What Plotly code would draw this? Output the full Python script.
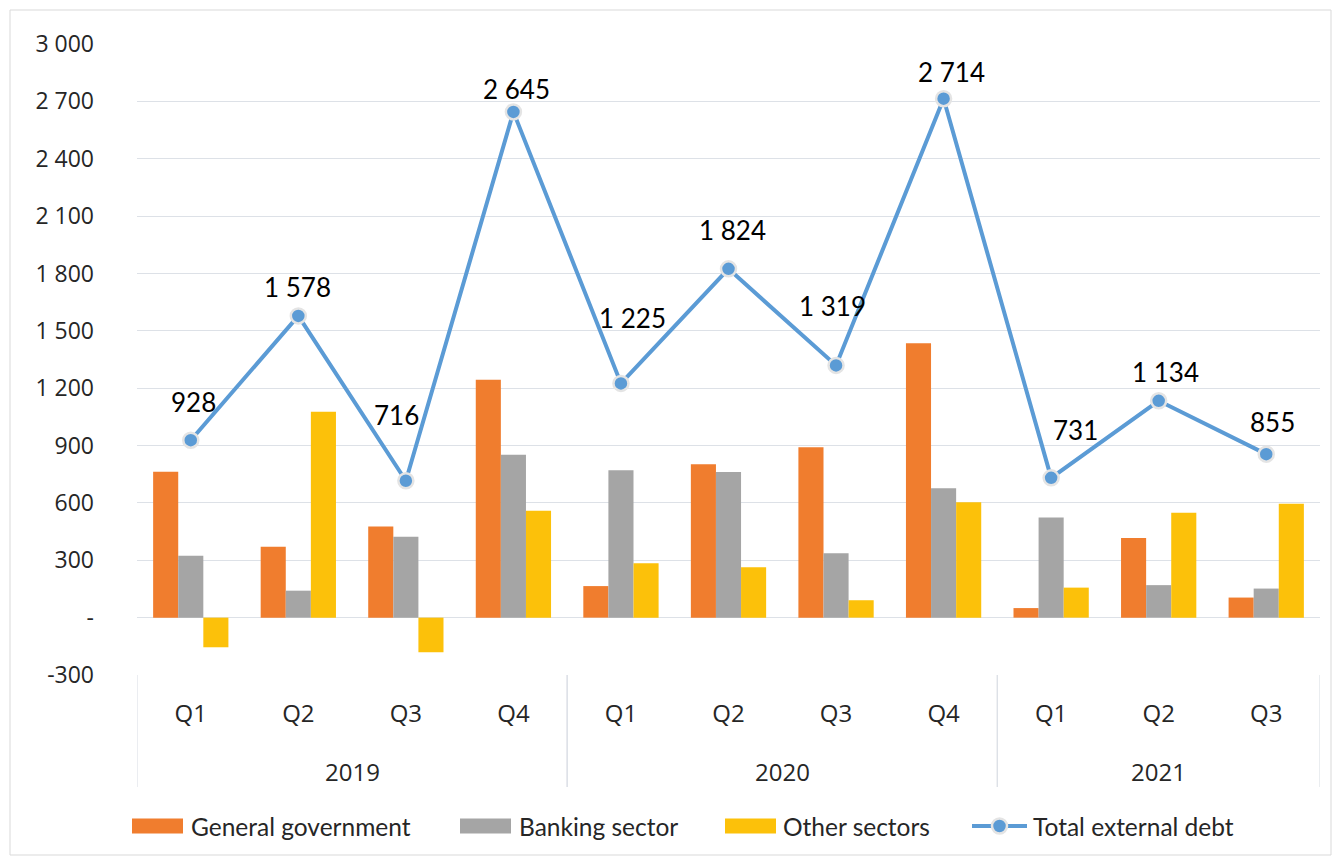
import plotly.graph_objects as go

# ---- data ----
years = ["2019", "2019", "2019", "2019", "2020", "2020", "2020", "2020", "2021", "2021", "2021"]
quarters = ["Q1", "Q2", "Q3", "Q4", "Q1", "Q2", "Q3", "Q4", "Q1", "Q2", "Q3"]
general_government = [763, 371, 476, 1244, 165, 802, 891, 1435, 50, 416, 105]
banking_sector = [324, 141, 423, 852, 771, 761, 337, 677, 524, 170, 152]
other_sectors = [-155, 1077, -181, 559, 285, 264, 91, 604, 157, 548, 596]
total_external_debt = [928, 1578, 716, 2645, 1225, 1824, 1319, 2714, 731, 1134, 855]
y_tick_values = [-300, 0, 300, 600, 900, 1200, 1500, 1800, 2100, 2400, 2700, 3000]

# ---- styling / layout (label offsets in px, manually placed in original) ----
label_dy = [38, 29, 66, 23, 65, 39, 59, 27, 48, 29, 32]
label_dx = [3, -1, -9, 3, 12, 4, -4, 8, 24, 7, 6]

W, H = 1337, 858
L, R, T, B = 137, 17, 44, 183
PW, PH = W - L - R, H - T - B


def px(x):
    return (x - L) / PW


def py(y):
    return (H - B - y) / PH


def fmt(v):
    if v == 0:
        return "-"
    return f"{v:,}".replace(",", " ")


C_GG = "#F07D2E"
C_BS = "#A5A5A5"
C_OS = "#FCC10A"
C_LINE = "#5B9BD5"
GRID = "#DDE1E7"
TXT = "#262626"

xi = list(range(len(quarters)))

fig = go.Figure()
fig.add_trace(go.Bar(x=xi, y=general_government, name="General government", marker=dict(color=C_GG, line_width=0)))
fig.add_trace(go.Bar(x=xi, y=banking_sector, name="Banking sector", marker=dict(color=C_BS, line_width=0)))
fig.add_trace(go.Bar(x=xi, y=other_sectors, name="Other sectors", marker=dict(color=C_OS, line_width=0)))
fig.add_trace(go.Scatter(
    x=xi, y=total_external_debt, name="Total external debt", mode="lines+markers",
    line=dict(color=C_LINE, width=4),
    marker=dict(size=15, color=C_LINE, line=dict(color="#E4E4E4", width=2.5)),
    cliponaxis=False,
))

annotations = []
for i, v in enumerate(total_external_debt):
    annotations.append(dict(
        x=i, y=v, xref="x", yref="y", text=fmt(v), showarrow=False,
        xanchor="center", yanchor="middle", xshift=label_dx[i], yshift=label_dy[i],
        font=dict(family="Lato", size=26, color="#000000"),
    ))

shapes = []
# year groups: labels and dividers derived from the years list
groups = []
for i, yname in enumerate(years):
    if not groups or groups[-1][0] != yname:
        groups.append([yname, i, i])
    else:
        groups[-1][2] = i
for yname, i0, i1 in groups:
    annotations.append(dict(x=(i0 + i1) / 2, y=py(771), xref="x", yref="paper", text=yname,
                            showarrow=False, xanchor="center", yanchor="middle",
                            font=dict(family="Open Sans", size=24, color=TXT)))
    for xb in (i0 - 0.5, i1 + 0.5):
        shapes.append(dict(type="line", xref="x", yref="paper", x0=xb, x1=xb, y0=0, y1=py(787),
                           line=dict(color=GRID, width=1.2)))

# custom legend
legend_y = 826
swatches = [(132, 183, C_GG, "General government", 189),
            (460, 511, C_BS, "Banking sector", 517),
            (725, 776, C_OS, "Other sectors", 781)]
for x0, x1, c, name, tx in swatches:
    shapes.append(dict(type="rect", xref="paper", yref="paper",
                       x0=px(x0), x1=px(x1), y0=py(legend_y + 7.5), y1=py(legend_y - 7.5),
                       fillcolor=c, line_width=0))
    annotations.append(dict(x=px(tx), y=py(legend_y), xref="paper", yref="paper", text=name,
                            showarrow=False, xanchor="left", yanchor="middle",
                            font=dict(family="Lato", size=24.5, color=TXT)))
shapes.append(dict(type="line", xref="paper", yref="paper", x0=px(972), x1=px(1027),
                   y0=py(legend_y), y1=py(legend_y), line=dict(color=C_LINE, width=4)))
shapes.append(dict(type="circle", xref="paper", yref="paper", x0=px(992), x1=px(1007),
                   y0=py(legend_y + 7.5), y1=py(legend_y - 7.5), fillcolor=C_LINE,
                   line=dict(color="#E4E4E4", width=2.5)))
annotations.append(dict(x=px(1031), y=py(legend_y), xref="paper", yref="paper", text="Total external debt",
                        showarrow=False, xanchor="left", yanchor="middle",
                        font=dict(family="Lato", size=24.5, color=TXT)))
# outer chart border
shapes.append(dict(type="rect", xref="paper", yref="paper", x0=px(10), x1=px(1331), y0=py(855), y1=py(10),
                   line=dict(color="#D9D9D9", width=1), fillcolor="rgba(0,0,0,0)", layer="below"))

fig.update_layout(
    width=W, height=H,
    margin=dict(l=L, r=R, t=T, b=B, pad=0, autoexpand=False),
    paper_bgcolor="white", plot_bgcolor="white",
    barmode="group", bargap=0.30, bargroupgap=0,
    showlegend=False,
    annotations=annotations, shapes=shapes,
    font=dict(family="Open Sans", color=TXT),
)
fig.update_yaxes(
    range=[-300, 3000], tickvals=y_tick_values, ticktext=[fmt(v) for v in y_tick_values],
    showgrid=True, gridcolor=GRID, gridwidth=1.2, zeroline=False, showline=False,
    ticks="", tickfont=dict(family="Open Sans", size=23, color=TXT),
    ticklabelstandoff=42, automargin=False,
)
fig.update_xaxes(
    range=[-0.5, len(quarters) - 0.5], tickvals=xi, ticktext=quarters,
    showgrid=False, showline=False, zeroline=False, ticks="",
    tickfont=dict(family="Open Sans", size=24, color=TXT),
    ticklabelstandoff=22, automargin=False,
)

fig.write_html(
    "out.html",
    config={"displayModeBar": False},
    post_script="document.body.style.margin='0';document.body.style.overflow='hidden';",
)
